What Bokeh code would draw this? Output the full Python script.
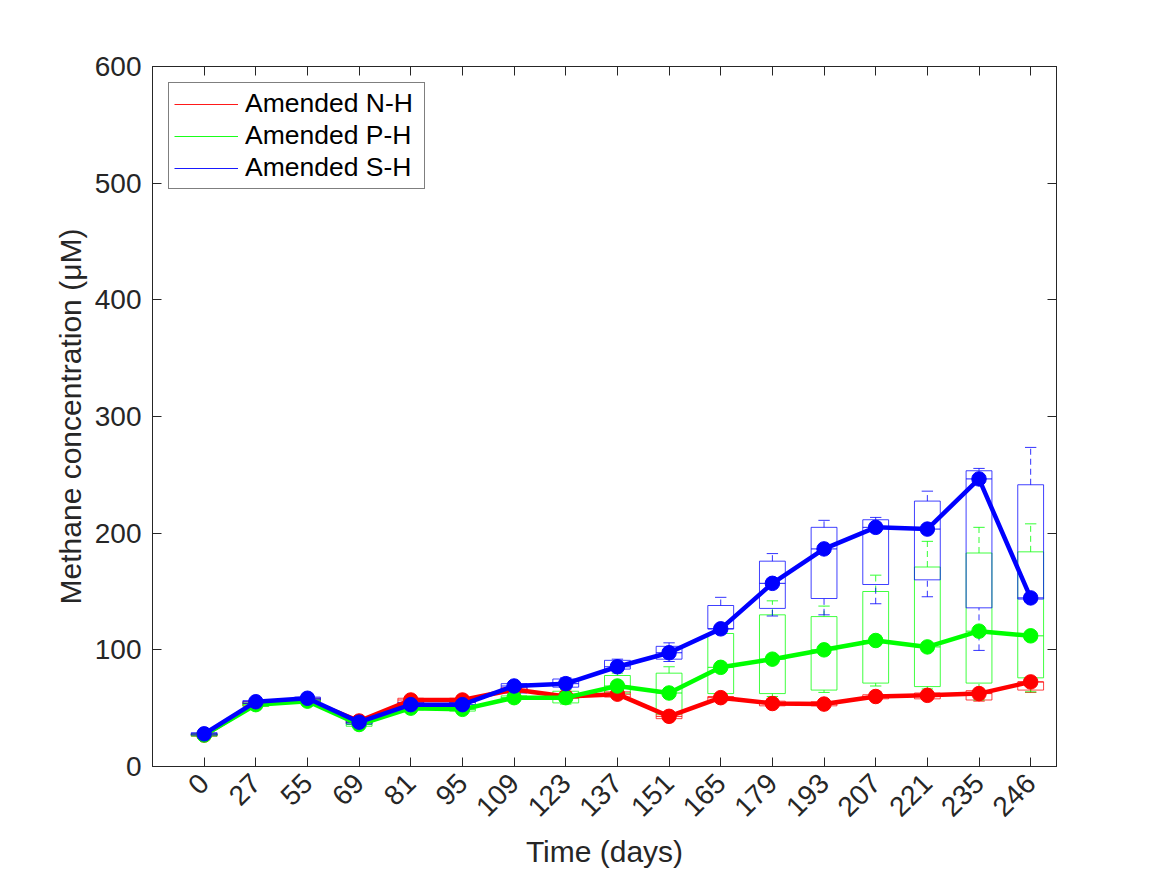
import math
from bokeh.plotting import figure
from bokeh.models import Range1d, FixedTicker, LinearAxis, Legend, LegendItem, ColumnDataSource
from bokeh.embed import file_html
from bokeh.resources import INLINE

# ---------------- data ----------------
days = ["0", "27", "55", "69", "81", "95", "109", "123", "137", "151",
        "165", "179", "193", "207", "221", "235", "246"]
y_ticks = [0, 100, 200, 300, 400, 500, 600]

series_names = ["Amended N-H", "Amended P-H", "Amended S-H"]
series_colors = ["#ff0000", "#00ff00", "#0000ff"]

# Amended N-H (red)
nh_med = [27, 54, 57, 39, 57, 57, 66, 60, 62, 43, 59, 54, 53.5, 60, 61, 62.5, 72.5]
nh_q1 = [26, 52, 55.5, 37.5, 54.5, 55, 64, 58.5, 59.5, 41, 56.5, 52, 52, 58, 58, 57, 65.5]
nh_q3 = [28, 55.5, 58.5, 40.5, 58.5, 58.5, 67.5, 62, 64, 45, 60, 56, 55.5, 61.5, 63, 65, 72.5]
nh_lo = [25.5, 51.5, 55, 37, 54, 54.5, 63.5, 58, 59, 40.5, 56, 51.5, 51.5, 57.5, 57.5, 56, 63.5]
nh_hi = [28.5, 56, 59, 41, 59, 59, 68, 62.5, 64.5, 45.5, 60.5, 56.5, 56, 62, 63.5, 65.5, 73]

# Amended P-H (green)
ph_med = [27, 53, 56, 36, 50, 49, 59, 59, 69, 63, 85, 92, 100, 108, 102.5, 116, 112]
ph_q1 = [26, 51.5, 54.5, 34.5, 48.5, 47.5, 57.5, 54.5, 63, 45, 62.5, 62.5, 65.5, 71.5, 68.5, 71.5, 76]
ph_q3 = [28, 54.5, 57.5, 37.5, 51.5, 50.5, 60.5, 64.5, 78, 80, 114, 130, 128.5, 150, 171, 183, 184]
ph_lo = [25.5, 51, 54, 34, 48, 47, 57, 53.5, 61, 43, 60, 60, 63.5, 69, 66.5, 57, 64]
ph_hi = [28.5, 55, 58, 38, 52, 51, 61, 66, 80, 85.5, 117, 142, 137.5, 164, 193, 205, 208]

# Amended S-H (blue)
sh_med = [28, 55.5, 58.5, 38, 53, 53, 69, 71, 85.5, 97.5, 118, 157, 186.5, 205, 203.5, 246.5, 144.5]
sh_q1 = [27, 54, 57, 36.5, 51, 51, 63, 68, 83.5, 92, 118, 135.5, 144, 156, 160, 136, 143.5]
sh_q3 = [29, 56.5, 59.5, 39.5, 55, 55, 71, 75, 91, 103, 138, 176, 205, 211.5, 227.5, 253.5, 241.5]
sh_lo = [26, 53, 56, 35.5, 50, 50, 62, 67, 82, 90, 116, 129, 130, 139.5, 145.5, 99.5, 143.5]
sh_hi = [30, 57.5, 60, 40.5, 56, 56, 72, 76, 92, 106, 145, 182.5, 211, 213.5, 236, 255.5, 273.5]

series_data = [
    (nh_med, nh_q1, nh_q3, nh_lo, nh_hi),
    (ph_med, ph_q1, ph_q3, ph_lo, ph_hi),
    (sh_med, sh_q1, sh_q3, sh_lo, sh_hi),
]

# ---------------- figure ----------------
FONT = "Liberation Sans"
AX = "#262626"
positions = list(range(1, len(days) + 1))

p = figure(width=1150, height=873, output_backend="svg", toolbar_location=None,
           x_range=Range1d(0, 17.5), y_range=Range1d(0, 600),
           min_border_left=152, min_border_right=94,
           min_border_top=66, min_border_bottom=107)
p.xgrid.visible = False
p.ygrid.visible = False
p.outline_line_color = AX
p.outline_line_width = 1
p.background_fill_color = "white"
p.border_fill_color = "white"

BOX_HALF = 0.25
CAP_HALF = 0.11

med_renderers = []
sources = []
for (med, q1, q3, lo, hi), color in zip(series_data, series_colors):
    src = ColumnDataSource(dict(
        x=positions,
        xl=[x - BOX_HALF for x in positions],
        xr=[x + BOX_HALF for x in positions],
        cl=[x - CAP_HALF for x in positions],
        cr=[x + CAP_HALF for x in positions],
        med=med, q1=q1, q3=q3, lo=lo, hi=hi,
    ))
    sources.append(src)
    p.quad(left="xl", right="xr", bottom="q1", top="q3", source=src,
           fill_color=None, line_color=color, line_width=1, line_alpha=0.75)
    p.segment(x0="x", y0="q3", x1="x", y1="hi", source=src, line_color=color,
              line_width=1, line_alpha=0.8, line_dash="6 4")
    p.segment(x0="x", y0="lo", x1="x", y1="q1", source=src, line_color=color,
              line_width=1, line_alpha=0.8, line_dash="6 4")
    p.segment(x0="cl", y0="hi", x1="cr", y1="hi", source=src, line_color=color,
              line_width=1, line_alpha=0.8)
    p.segment(x0="cl", y0="lo", x1="cr", y1="lo", source=src, line_color=color,
              line_width=1, line_alpha=0.8)
    mr = p.segment(x0="xl", y0="med", x1="xr", y1="med", source=src, line_color=color,
                   line_width=1, line_alpha=0.9)
    med_renderers.append(mr)

for src, color in zip(sources, series_colors):
    p.line(x="x", y="med", source=src, line_color=color, line_width=4.5)
    p.scatter(x="x", y="med", source=src, size=14.5, marker="circle",
              fill_color=color, line_color=color)

# ---------------- axes ----------------
def style_axis(ax):
    ax.axis_line_color = AX
    ax.axis_line_width = 1
    ax.major_tick_line_color = AX
    ax.major_tick_in = 9
    ax.major_tick_out = 0
    ax.minor_tick_line_color = None
    ax.major_label_text_font = FONT
    ax.major_label_text_font_size = "28px"
    ax.major_label_text_color = AX
    ax.axis_label_text_font = FONT
    ax.axis_label_text_font_size = "30px"
    ax.axis_label_text_font_style = "normal"
    ax.axis_label_text_color = AX

xa = p.xaxis[0]
xa.ticker = FixedTicker(ticks=positions)
xa.major_label_overrides = {pos: d for pos, d in zip(positions, days)}
xa.major_label_orientation = math.pi / 4
xa.axis_label = "Time (days)"
style_axis(xa)
xa.major_label_standoff = 12
xa.axis_label_standoff = 7

ya = p.yaxis[0]
ya.ticker = FixedTicker(ticks=y_ticks)
ya.axis_label = "Methane concentration (μM)"
style_axis(ya)
ya.major_label_standoff = 11
ya.axis_label_standoff = 5

top_ax = LinearAxis(ticker=FixedTicker(ticks=positions),
                    major_label_overrides={pos: "" for pos in positions})
style_axis(top_ax)
p.add_layout(top_ax, "above")

right_ax = LinearAxis(ticker=FixedTicker(ticks=y_ticks),
                      major_label_overrides={t: "" for t in y_ticks})
style_axis(right_ax)
p.add_layout(right_ax, "right")

# ---------------- legend ----------------
legend = Legend(items=[LegendItem(label=n, renderers=[r])
                       for n, r in zip(series_names, med_renderers)],
                location="top_left", margin=16, padding=5, spacing=1,
                glyph_width=64, glyph_height=30, label_height=30,
                label_width=174, label_standoff=7,
                label_text_font=FONT, label_text_font_size="26.5px",
                label_text_color="black",
                border_line_color="black", border_line_width=1,
                background_fill_color="white", background_fill_alpha=1)
p.add_layout(legend)

open("out.html", "w").write(file_html(p, INLINE))
